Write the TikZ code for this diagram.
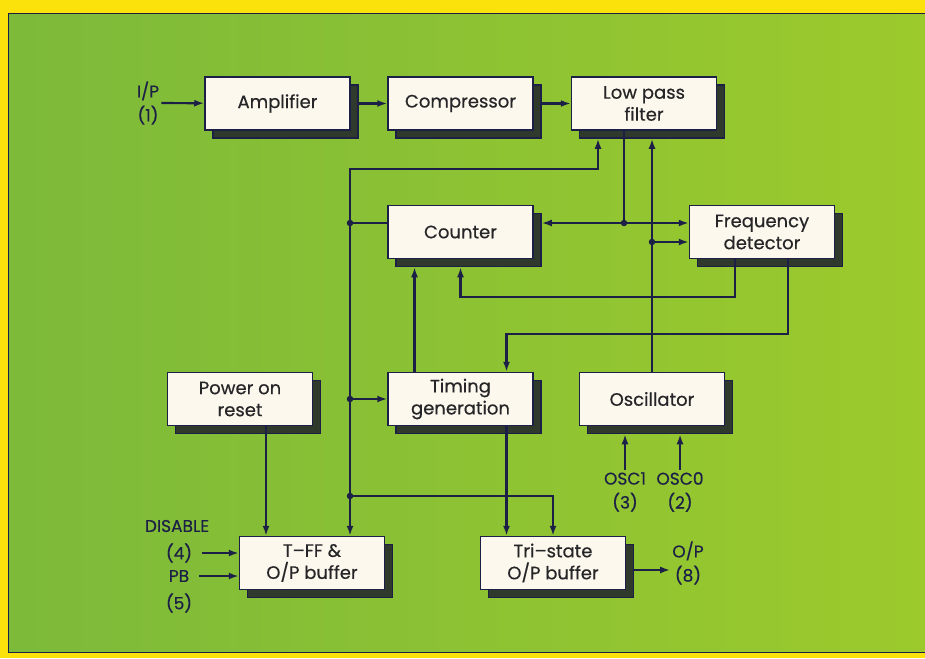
\documentclass[tikz,border=0pt]{standalone}
\usepackage{fontspec}
\setmainfont{Poppins}[FakeBold=0.5]
\usetikzlibrary{arrows.meta,shadows}
\definecolor{frame}{RGB}{250,226,10}
\definecolor{bgleft}{RGB}{125,186,58}
\definecolor{bgright}{RGB}{156,202,44}
\definecolor{wirec}{RGB}{28,32,70}
\definecolor{paper}{RGB}{252,248,238}
\definecolor{shadowc}{RGB}{48,58,44}
\definecolor{ink}{RGB}{38,38,40}
\tikzset{
  block/.style={draw=wirec, line width=1.5pt, fill=paper, text=ink,
    minimum width=145pt, minimum height=53pt, inner sep=2pt, align=center,
    font=\fontsize{18}{22}\selectfont,
    drop shadow={shadow xshift=8pt, shadow yshift=-8pt, fill=shadowc, draw=wirec, opacity=1}},
  port/.style={text=wirec, inner sep=2pt, align=center, font=\fontsize{17}{24}\selectfont},
  link/.style={draw=wirec, line width=2.2pt},
  sig/.style={link, -{Latex[length=10pt,width=7pt]}},
  dot/.style={circle, fill=wirec, inner sep=0pt, minimum size=6.5pt}
}
\begin{document}
\begin{tikzpicture}[x=1pt,y=-1pt]
    \useasboundingbox (0,0) rectangle (925,658);
    \fill [frame] (0,0) rectangle (925,658);
    \fill [left color=bgleft,right color=bgright] (8,14) rectangle (925,652);
    \draw [wirec,line width=1pt] (925,14) -- (8,14) -- (8,652) -- (925,652);

    \node [block] (amp) at (277.5,103.5) {Amplifier};
    \node [block] (comp) at (460.5,103.5) {Compressor};
    \node [block] (lpf) at (644,103.5) {Low pass\\filter};
    \node [block] (cnt) at (460.5,232) {Counter};
    \node [block] (freq) at (762,232) {Frequency\\detector};
    \node [block] (por) at (240,399) {Power on\\reset};
    \node [block] (tg) at (460.5,399) {Timing\\generation};
    \node [block] (osc) at (652,399) {Oscillator};
    \node [block] (tff) at (312,563) {T–FF \&\\O/P buffer};
    \node [block] (tri) at (553,563) {Tri–state\\O/P buffer};

    \node [port] (ip) at (148,103) {I/P\\(1)};
    \node [port] (dis) at (177,526) {DISABLE};
    \node [port] (n4) at (179,553) {(4)};
    \node [port] (pb) at (179,576) {PB};
    \node [port] (n5) at (179,603) {(5)};
    \node [port] (osc1) at (625,492) {OSC1\\(3)};
    \node [port] (osc0) at (680,492) {OSC0\\(2)};
    \node [port] (op) at (688,563) {O/P\\(8)};

    \coordinate (lpfsh) at ([yshift=-8pt]lpf.south);
    \coordinate (cntsh) at ([yshift=-8pt]cnt.south);
    \coordinate (cntsr) at ([xshift=8pt]cnt.east);
    \coordinate (oscsh) at ([yshift=-8pt]osc.south);
    \coordinate (tgout) at ([xshift=46pt]tg.south);
    \coordinate (tgin) at ([xshift=46pt]tg.north);
    \coordinate (tgup) at ([xshift=-46pt]tg.north);
    \coordinate (tffin) at ([xshift=-46pt]tff.north);
    \coordinate (fo1) at ([xshift=-27pt]freq.south);
    \coordinate (fo2) at ([xshift=26pt]freq.south);
    \coordinate (trisr) at ([xshift=8pt,yshift=-7pt]tri.east);
    \coordinate (jc) at (350,223);
    \coordinate (jt) at (350,399);
    \coordinate (jb) at (350,496);
    \coordinate (jl) at (624,223);
    \coordinate (jo) at (652,242);

    \draw [sig] (ip) -- (amp);
    \draw [sig] ([xshift=8pt]amp.east) -- (comp);
    \draw [sig] ([xshift=8pt]comp.east) -- (lpf);
    \draw [sig] (jc) |- ([xshift=-46pt,yshift=-30pt]lpfsh) -- ([xshift=-46pt]lpfsh);
    \draw [link] (cnt.west |- jc) -- (jc);
    \draw [sig] (jc) -- (jc |- tff.north);
    \draw [sig] (jt) -- (tg);
    \draw [sig] (jb) -| (tri.north);
    \draw [sig] (tgout) -- (tgout |- tri.north);
    \draw [sig] (tgup) -- (tgup |- cntsh);
    \draw [sig] (por.south -| tffin) -- (tffin);
    \draw [sig] (fo1) |- ([yshift=-30pt]cntsh) -- (cntsh);
    \draw [sig] (fo2) |- ([yshift=38pt]tgin) -- (tgin);
    \draw [link] (lpf.south -| jl) -- (jl);
    \draw [sig] (jl) -- (cntsr |- jl);
    \draw [sig] (jl) -- (freq.west |- jl);
    \draw [sig] (osc) -- (osc |- lpfsh);
    \draw [sig] (jo) -- (freq.west |- jo);
    \draw [sig] (osc1) -- (osc1 |- oscsh);
    \draw [sig] (osc0) -- (osc0 |- oscsh);
    \draw [sig,shorten <=8pt] (n4) -- (n4 -| tff.west);
    \draw [sig,shorten <=8pt] (pb) -- (pb -| tff.west);
    \draw [sig] (trisr) -- (trisr -| op.west);
    \foreach \j in {jc,jt,jb,jl,jo}
        \node [dot] (d\j) at (\j) {};
\end{tikzpicture}
\end{document}
